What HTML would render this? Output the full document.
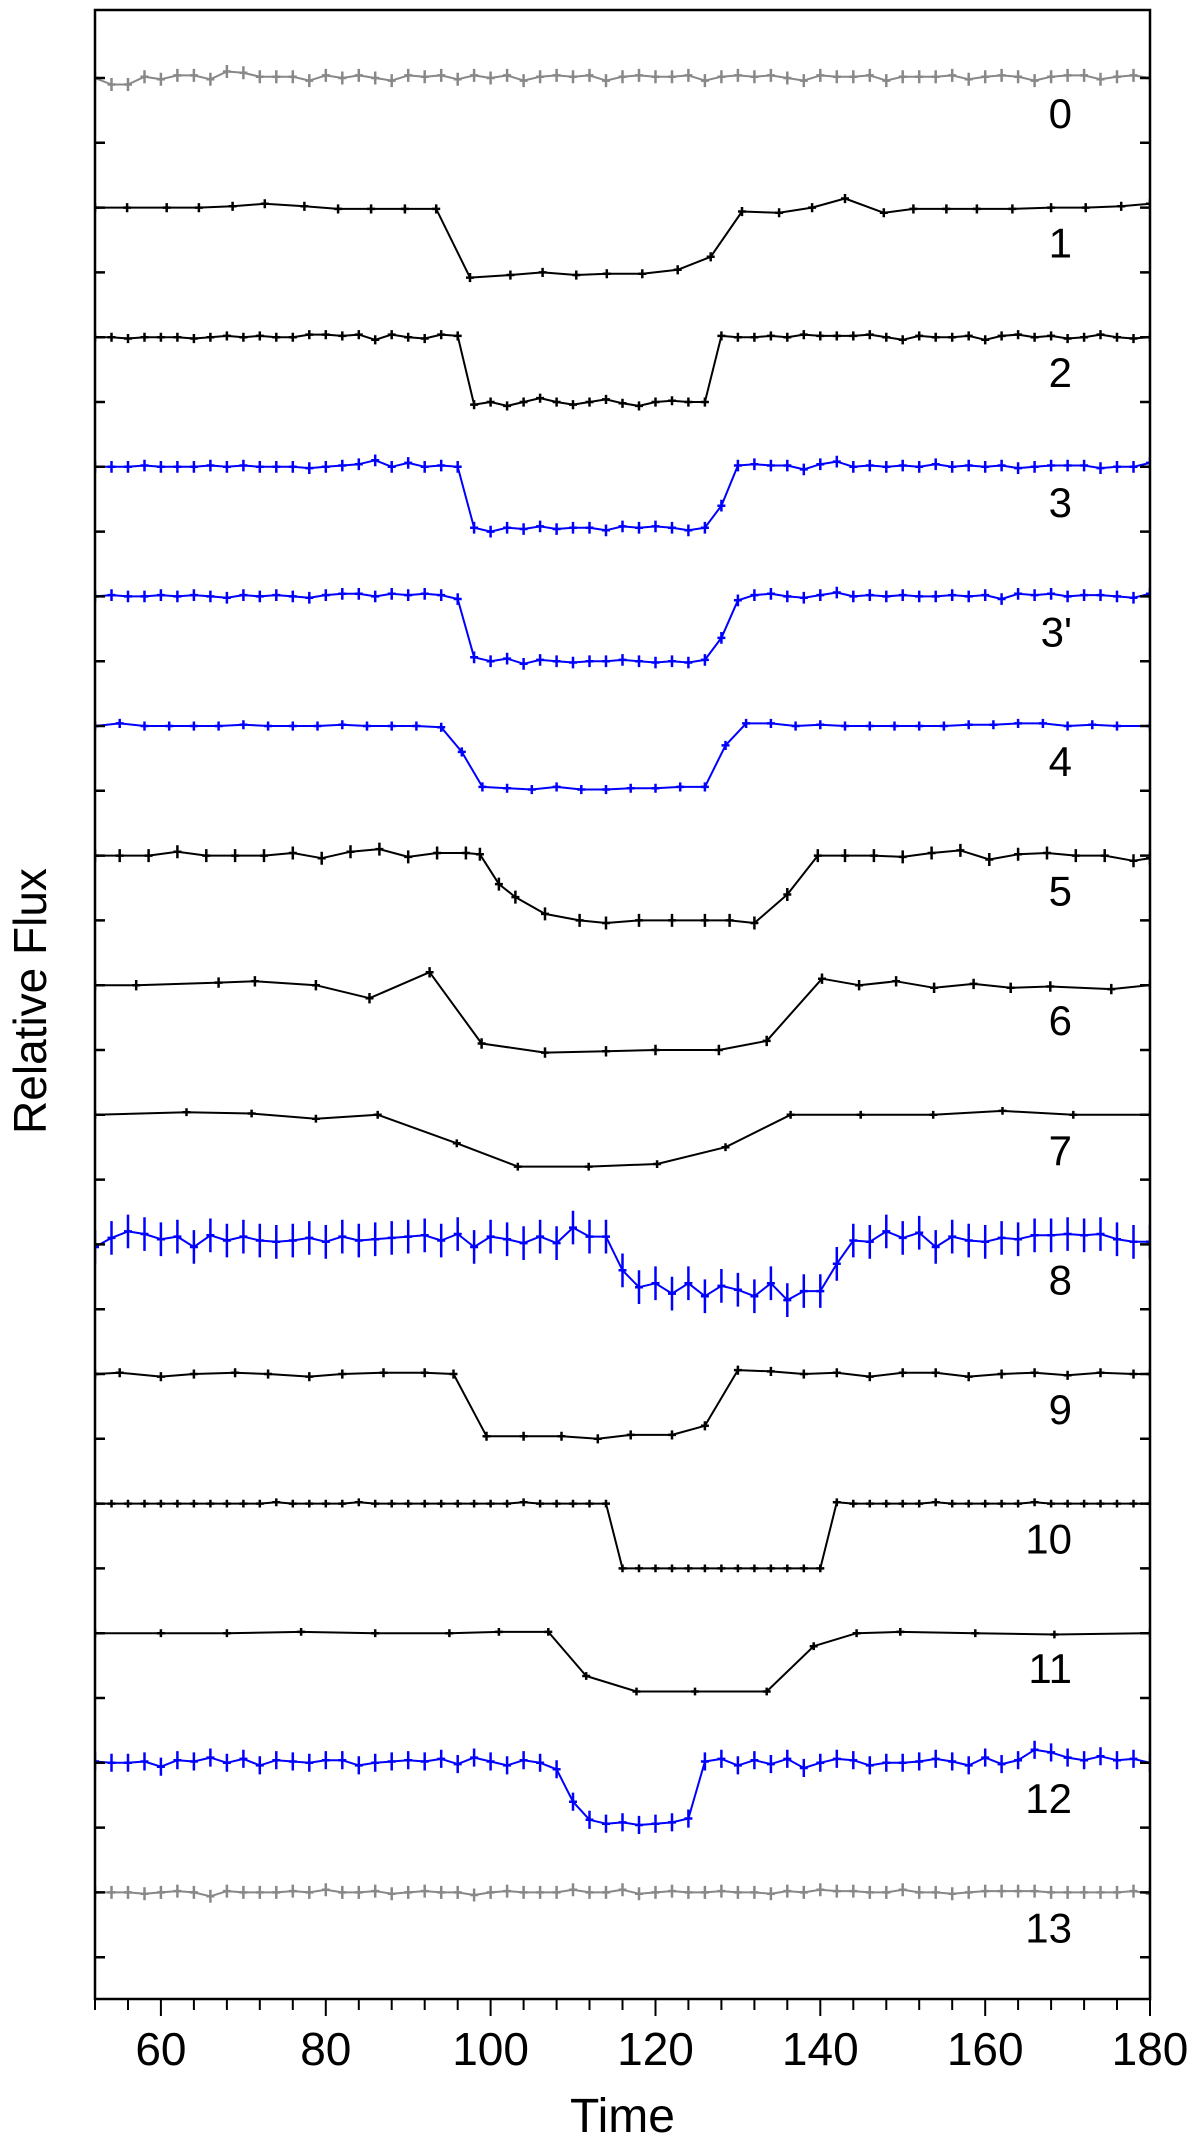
<!DOCTYPE html>
<html><head><meta charset="utf-8"><title>Relative Flux vs Time</title>
<style>html,body{margin:0;padding:0;background:#fff;}svg{display:block;}</style></head>
<body>
<svg id="chart" width="1200" height="2142" viewBox="0 0 1200 2142" xmlns="http://www.w3.org/2000/svg" font-family="Liberation Sans, DejaVu Sans, sans-serif"></svg>
<script>
const xTicks=[60,80,100,120,140,160,180];
const seriesLabels=["0","1","2","3","3'","4","5","6","7","8","9","10","11","12","13"];
const T2=[52,54,56,58,60,62,64,66,68,70,72,74,76,78,80,82,84,86,88,90,92,94,96,98,100,102,104,106,108,110,112,114,116,118,120,122,124,126,128,130,132,134,136,138,140,142,144,146,148,150,152,154,156,158,160,162,164,166,168,170,172,174,176,178,180];
const s0=[0,-0.05,-0.05,0.01,-0.01,0.02,0.02,-0.01,0.05,0.04, 0.01,0.01,0.01,-0.02,0.02,0,0.02,0,-0.02,0.02, 0.01,0.02,-0.01,0.02,0,0.02,-0.02,0.01,0.02,0.01, 0.02,-0.02,0.01,0.02,0.01,0.01,0.02,-0.02,0.01,0.02, 0.01,0.02,0,-0.02,0.02,0.01,0.01,0.02,-0.02,0.01, 0.01,0.01,0.02,-0.01,0.01,0.02,0.01,-0.02,0.01,0.02, 0.02,-0.01,0.01,0.02,0];
const t1=[52,55.9,60.7,64.6,68.7,72.6,77.4,81.5,85.5,89.6,93.4,97.5,102.4,106.3,110.4,114.1,118.4,122.7,126.7,130.5,135,139,143,147.7,151.3,155.3,159,163.3,168,172.2,176.5,180];
const s1=[0,0,0,0,0.01,0.03,0.01,-0.01,-0.01,-0.01,-0.01,-0.54,-0.52,-0.5,-0.52,-0.51,-0.51,-0.48,-0.38,-0.03,-0.04,0,0.07,-0.04,-0.01,-0.01,-0.01,-0.01,0,0,0.01,0.03];
const s2=[0,0,-0.01,0,0,0,-0.01,0,0.01,0, 0.01,0,0,0.02,0.02,0.01,0.02,-0.02,0.02,0, -0.01,0.02,0.01,-0.52,-0.5,-0.53,-0.5,-0.47,-0.5,-0.52, -0.5,-0.48,-0.51,-0.53,-0.5,-0.49,-0.5,-0.5,0.01,0, 0,0.01,0,0.02,0.01,0.01,0.01,0.02,0,-0.02, 0.01,0,0,0.01,-0.02,0.01,0.02,0,0.01,-0.01, 0,0.02,0,-0.01,0];
const s3=[0,0,0,0.01,0,0,0,0.01,0,0.01, 0,0,0,-0.01,0,0.01,0.02,0.05,0,0.03, 0,0.01,0,-0.47,-0.5,-0.47,-0.48,-0.46,-0.48,-0.47, -0.47,-0.49,-0.46,-0.47,-0.46,-0.47,-0.49,-0.47,-0.3,0.01, 0.02,0.01,0.01,-0.02,0.02,0.04,0,0.01,0,0.01, 0,0.02,0,0.01,0,0.01,-0.01,0,0.01,0.01, 0.01,-0.01,0,0,0.03];
const s3p=[0,0.01,0,0,0.01,0,0.01,0,-0.01,0.01, 0,0.01,0,-0.01,0.01,0.02,0.02,0,0.02,0.01, 0.02,0.01,-0.02,-0.47,-0.5,-0.48,-0.52,-0.49,-0.5,-0.51, -0.5,-0.5,-0.49,-0.5,-0.51,-0.5,-0.51,-0.49,-0.32,-0.03, 0.01,0.02,0,-0.01,0.01,0.03,0,0.01,0,0.01, 0,0,0.01,0,0.01,-0.02,0.02,0.01,0.02,0, 0.01,0.01,0,-0.01,0.02];
const t4=[52,55,58,61,64,67,70,73,76,79,82,85,88,91,94,96.5,99,102,105,108,111,114,117,120,123,126,128.5,131,134,137,140,143,146,149,152,155,158,161,164,167,170,173,176,180];
const s4=[0,0.02,0,0,0,0,0.01,0,0,0,0.01,0,0,0,-0.01,-0.2,-0.47,-0.48,-0.49,-0.47,-0.49,-0.49,-0.48,-0.48,-0.47,-0.47,-0.15,0.02,0.02,0,0.01,0,0,0,0,0,0.01,0.01,0.02,0.02,0,0.01,0,0];
const t5=[52,55,58.5,62,65.5,69,72.5,76,79.5,83,86.5,90,93.5,97,98.7,101,103,106.6,110.8,114,118,122,126,129,132,136,139.7,143,146.5,150,153.5,157,160.5,164,167.5,171,174.5,178,180];
const s5=[0,0,0,0.03,0,0,0,0.02,-0.02,0.03,0.05,-0.01,0.02,0.02,0.01,-0.22,-0.32,-0.45,-0.5,-0.52,-0.5,-0.5,-0.5,-0.5,-0.52,-0.3,0,0,0,-0.01,0.02,0.04,-0.03,0.01,0.02,0,0,-0.04,-0.02];
const t6=[52,57,67,71.4,78.8,85.3,92.6,98.9,106.6,114,120,127.7,133.5,140.2,144.7,149.2,153.8,158.6,163.1,167.9,175.3,180];
const s6=[0,0,0.02,0.03,0,-0.1,0.1,-0.45,-0.52,-0.51,-0.5,-0.5,-0.43,0.05,0,0.03,-0.02,0.01,-0.02,-0.01,-0.03,0];
const t7=[52,63.1,71,78.8,86.3,95.9,103.3,111.9,120.2,128.5,136.4,144.9,153.7,162.1,170.7,180];
const s7=[0,0.02,0.01,-0.03,0,-0.22,-0.4,-0.4,-0.38,-0.25,0,0,0,0.03,0,0];
const s8=[-0.02,0.05,0.1,0.08,0.04,0.06,-0.02,0.07,0.03,0.06, 0.03,0.02,0.03,0.05,0.02,0.06,0.03,0.04,0.05,0.06, 0.07,0.03,0.08,-0.02,0.06,0.04,0.01,0.06,0.01,0.13, 0.06,0.06,-0.2,-0.33,-0.3,-0.38,-0.3,-0.4,-0.32,-0.35, -0.4,-0.3,-0.43,-0.36,-0.36,-0.15,0.03,0.02,0.1,0.05, 0.09,-0.02,0.06,0.03,0.02,0.05,0.04,0.07,0.07,0.08, 0.07,0.08,0.04,0.02,0.02];
const t9=[52,55,60,64,69,73,78,82,87,92,95.5,99.5,104,108.6,113,117,122,126,130,134,138,142,146,150,154,158,162,166,170,174,178,180];
const s9=[0,0.01,-0.02,0,0.01,0,-0.02,0,0.01,0.01,0,-0.48,-0.48,-0.48,-0.5,-0.47,-0.47,-0.4,0.03,0.02,0,0.01,-0.02,0.01,0.01,-0.02,0,0.01,-0.01,0.01,0,0];
const s10=[0,0,0,0,0,0,0,0,0,0, 0,0.01,0,0,0,0,0.01,0,0,0, 0,0,0,0,0,0,0.01,0,0,0, 0,0,-0.5,-0.5,-0.5,-0.5,-0.5,-0.5,-0.5,-0.5, -0.5,-0.5,-0.5,-0.5,-0.5,0.01,0,0,0,0, 0,0.01,0,0,0,0,0,0.01,0,0, 0,0,0,0,0];
const t11=[52,60,68,77,86,95,101,107,111.6,117.7,124.8,133.5,139.2,144.4,149.7,158.8,168.4,180];
const s11=[0,0,0,0.01,0,0,0.01,0.01,-0.33,-0.45,-0.45,-0.45,-0.1,0,0.01,0,-0.01,0];
const s12=[0.01,0,0,0.01,-0.03,0.02,0.01,0.04,0,0.03, -0.02,0.02,0.01,0,0.02,0.02,-0.02,0,0.01,0.02, 0.01,0.03,-0.01,0.04,0.01,-0.02,0.02,0,-0.05,-0.3, -0.44,-0.47,-0.46,-0.48,-0.47,-0.46,-0.43,0.01,0.03,-0.02, 0.02,-0.01,0.03,-0.04,0,0.03,0.02,-0.02,0,0, 0.01,0.03,0.01,-0.02,0.04,-0.01,0.02,0.1,0.08,0.04, 0.02,0.05,0.02,0.03,0];
const s13=[0,0,0,-0.01,0,0.01,0,-0.03,0.01,0, 0,0,0.01,0,0.02,0,0,0.01,-0.01,0, 0.01,0,0,-0.02,0,0.01,0,0,0,0.02, 0,0,0.02,-0.01,0,0.01,0,0,0.01,0, 0,-0.01,0.01,0,0.02,0.01,0.01,0,0,0.02, 0,0,-0.01,0,0.01,0.01,0.01,0.01,0,0, 0,0,0,0.01,-0.01];

const NS="http://www.w3.org/2000/svg";
const svg=document.getElementById('chart');
const L=95,R=1150,TOP=10,BOT=1999,XMIN=52,XMAX=180,Y0=78,S=129.6;
function xs(t){return L+(t-XMIN)/(XMAX-XMIN)*(R-L);}
function ys(k,v){return Y0+(k-v)*S;}
function mk(tag,attrs){const e=document.createElementNS(NS,tag);for(const a in attrs)e.setAttribute(a,attrs[a]);return e;}

const series=[
 {t:T2,v:s0,c:"#888888",eb:0.05},
 {t:t1,v:s1,c:"#000",eb:0.035},
 {t:T2,v:s2,c:"#000",eb:0.035},
 {t:T2,v:s3,c:"#0000ff",eb:0.045},
 {t:T2,v:s3p,c:"#0000ff",eb:0.045},
 {t:t4,v:s4,c:"#0000ff",eb:0.035},
 {t:t5,v:s5,c:"#000",eb:0.05},
 {t:t6,v:s6,c:"#000",eb:0.04},
 {t:t7,v:s7,c:"#000",eb:0.03},
 {t:T2,v:s8,c:"#0000ff",eb:0.13},
 {t:t9,v:s9,c:"#000",eb:0.035},
 {t:T2,v:s10,c:"#000",eb:0.03},
 {t:t11,v:s11,c:"#000",eb:0.03},
 {t:T2,v:s12,c:"#0000ff",eb:0.07},
 {t:T2,v:s13,c:"#888888",eb:0.05}
];

const clip=mk('clipPath',{id:'pc'});clip.appendChild(mk('rect',{x:L,y:TOP,width:R-L,height:BOT-TOP}));
const defs=mk('defs',{});defs.appendChild(clip);svg.appendChild(defs);

const plot=mk('g',{'clip-path':'url(#pc)'});


svg.appendChild(plot);

series.forEach((s,k)=>{
  const g=mk('g',{});
  
  
  const n=Math.min(s.t.length,s.v.length);
  let d='';
  for(let i=0;i<n;i++){d+=(i?'L':'M')+xs(s.t[i]).toFixed(1)+' '+ys(k,s.v[i]).toFixed(1);}
  const p=mk('path',{d:d,fill:'none',stroke:s.c,'stroke-width':2,'stroke-linejoin':'round'});
  
  
  g.appendChild(p);
  let m='';
  for(let i=0;i<n;i++){
    const x=xs(s.t[i]),y=ys(k,s.v[i]),e=s.eb*S;
    m+='M'+(x-4).toFixed(1)+' '+y.toFixed(1)+'h8M'+x.toFixed(1)+' '+(y-e).toFixed(1)+'v'+(2*e).toFixed(1);
  }
  const mp=mk('path',{d:m,fill:'none',stroke:s.c,'stroke-width':2.5});
  
  
  g.appendChild(mp);
  plot.appendChild(g);
  const lab=mk('text',{x:1072,y:(ys(k,0)+50).toFixed(1),'text-anchor':'end','font-size':42,fill:'#000'});
  lab.textContent=seriesLabels[k];
  
  
  svg.appendChild(lab);
});

// y ticks (both sides, inward)
let yt='';
for(let y=Y0;y<=BOT-5;y+=S/2){yt+='M'+L+' '+y.toFixed(1)+'h10M'+R+' '+y.toFixed(1)+'h-10';}
const ytp=mk('path',{d:yt,stroke:'#000','stroke-width':2.5,fill:'none'});


svg.appendChild(ytp);

// x ticks
let xt='';
for(let t=XMIN;t<=XMAX;t+=4){const major=xTicks.indexOf(t)>=0;xt+='M'+xs(t).toFixed(1)+' '+BOT+'v'+(major?17:11);}
const xtp=mk('path',{d:xt,stroke:'#000','stroke-width':2,fill:'none'});


svg.appendChild(xtp);
xTicks.forEach(t=>{
  const tx=mk('text',{x:xs(t).toFixed(1),y:2065,'text-anchor':'middle','font-size':46,fill:'#000'});
  tx.textContent=t;
  
  
  svg.appendChild(tx);
});

const frame=mk('rect',{x:L,y:TOP,width:R-L,height:BOT-TOP,fill:'none',stroke:'#000','stroke-width':2.5});


svg.appendChild(frame);

const xl=mk('text',{x:(L+R)/2,y:2132,'text-anchor':'middle','font-size':48,fill:'#000'});
xl.textContent='Time';


svg.appendChild(xl);

const yl=mk('text',{x:0,y:0,'text-anchor':'middle','font-size':46,fill:'#000',transform:'translate(46,1001) rotate(-90)'});
yl.textContent='Relative Flux';


svg.appendChild(yl);
</script>
</body></html>
